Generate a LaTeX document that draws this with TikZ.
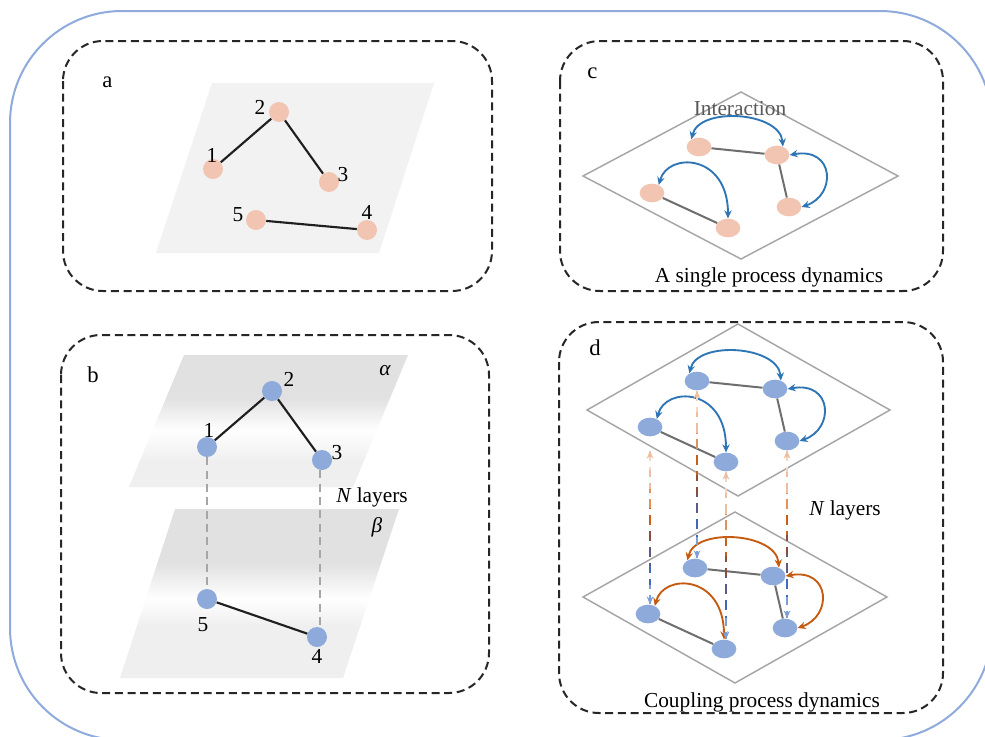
\documentclass[tikz,border=0pt]{standalone}
\usepackage{fontspec}
\setmainfont{Liberation Serif}
\usetikzlibrary{arrows.meta,shapes.geometric,calc}
\definecolor{outerblue}{HTML}{8FAADC}
\definecolor{nodeblue}{HTML}{8EAADB}
\definecolor{peach}{HTML}{F2C5B2}
\definecolor{arcblue}{HTML}{2E75B6}
\definecolor{arcorange}{HTML}{C55A11}
\definecolor{planegray}{HTML}{F2F2F2}
\definecolor{planeDark}{HTML}{E1E1E1}
\definecolor{planeLight}{HTML}{EFEFEF}
\definecolor{diamgray}{HTML}{A6A6A6}
\definecolor{edgegray}{HTML}{6E6E6E}
\definecolor{txtgray}{HTML}{595959}
\definecolor{gA}{HTML}{F4D6C4}
\definecolor{gB}{HTML}{EDBFA0}
\definecolor{gC}{HTML}{DE9260}
\definecolor{gD}{HTML}{C9601A}
\definecolor{gE}{HTML}{8A4E3E}
\definecolor{gF}{HTML}{5A5A84}
\definecolor{gG}{HTML}{4169B4}
\definecolor{gH}{HTML}{7E9ED8}
\tikzset{
 panel/.style={draw=black!85, line width=1.5pt, dash pattern=on 6pt off 3.5pt, rounded corners=30pt},
 outerline/.style={draw=outerblue, line width=1.5pt, rounded corners=84pt},
 dotA/.style={circle, fill=peach, minimum size=15pt, inner sep=0pt},
 dotB/.style={circle, fill=nodeblue, minimum size=15pt, inner sep=0pt},
 ell/.style={ellipse, minimum width=18.5pt, minimum height=14pt, inner sep=0pt},
 blackedge/.style={draw=black!88, line width=1.6pt},
 grayedge/.style={draw=edgegray, line width=1.5pt},
 vdash/.style={draw=diamgray, line width=1.5pt, dash pattern=on 6pt off 4pt},
 cdash/.style={line width=1.5pt, dash pattern=on 8pt off 4pt},
 diam/.style={draw=diamgray, line width=1.1pt},
 arcline/.style={line width=1.4pt, {Stealth[length=6pt,width=5.5pt]}-{Stealth[length=6pt,width=5.5pt]}},
 txt/.style={inner sep=0pt, font=\fontsize{16}{19}\selectfont},
 lbl/.style={inner sep=0pt, anchor=base west, font=\fontsize{17}{20}\selectfont},
}
\newcommand\netlayer[4]{%
 \begin{scope}[shift={#4}]
  \node[ell, fill=#2] (#1-1) at (699,147) {};
  \node[ell, fill=#2] (#1-2) at (777,155) {};
  \node[ell, fill=#2] (#1-3) at (652,193) {};
  \node[ell, fill=#2] (#1-4) at (728,228) {};
  \node[ell, fill=#2] (#1-5) at (789,207) {};
 \end{scope}
 \draw[grayedge] (#1-1) -- (#1-2) (#1-2) -- (#1-5) (#1-3) -- (#1-4);
 \draw[arcline, draw=#3] (#1-1.135) .. controls +(8,-33) and +(-3,-35) .. (#1-2.55);
 \draw[arcline, draw=#3] (#1-3.50) .. controls +(9,-33) and +(0,-65) .. (#1-4.90);
 \draw[arcline, draw=#3] (#1-2.east) .. controls +(45,-8) and +(35,-12) .. (#1-5.east);
}
\begin{document}
\begin{tikzpicture}[x=0.75pt,y=-0.75pt, font=\fontsize{16}{19}\selectfont]
\useasboundingbox (0,0) rectangle (985,736);
\clip (0,0) rectangle (985,736);
\fill[white] (0,0) rectangle (985,736);

% outer frame
\draw[outerline] (10,11) rectangle (992,740);

% panels
\draw[panel] (63,41) rectangle (492,291);
\draw[panel] (61,335) rectangle (489,693);
\draw[panel] (560,41) rectangle (943,291);
\draw[panel] (559,322) rectangle (943,713);

\node[lbl] (la) at (102,87) {a};
\node[lbl] (lb) at (87,382) {b};
\node[lbl] (lc) at (587,78) {c};
\node[lbl] (ld) at (589,355) {d};

% ---------- panel a ----------
\fill[planegray] (212,83) -- (434,83) -- (379,253) -- (156,253) -- cycle;
\node[dotA] (a1) at (213,169) {};
\node[dotA] (a2) at (279,112) {};
\node[dotA] (a3) at (329,182) {};
\node[dotA] (a5) at (256,220) {};
\node[dotA] (a4) at (367,230) {};
\draw[blackedge] (a1) -- (a2) (a2) -- (a3) (a5) -- (a4);
\node[txt] (ta1) at (212,155) {1};
\node[txt] (ta2) at (260,107) {2};
\node[txt] (ta3) at (343,175) {3};
\node[txt] (ta5) at (238,215) {5};
\node[txt] (ta4) at (367,212) {4};

% ---------- panel b ----------
\begin{scope}
 \clip (184,355) -- (408,355) -- (353,487) -- (129,487) -- cycle;
 \fill[planeDark] (120,354) rectangle (420,399);
 \shade[top color=planeDark, bottom color=white] (120,398) rectangle (420,431);
 \shade[top color=white, bottom color=planeLight] (120,430) rectangle (420,461);
 \fill[planeLight] (120,460) rectangle (420,488);
\end{scope}
\begin{scope}
 \clip (175,509) -- (399,509) -- (343,678) -- (120,678) -- cycle;
 \fill[planeDark] (110,508) rectangle (410,564);
 \shade[top color=planeDark, bottom color=white] (110,563) rectangle (410,599);
 \shade[top color=white, bottom color=planeLight] (110,598) rectangle (410,626);
 \fill[planeLight] (110,625) rectangle (410,679);
\end{scope}
\node[dotB] (b1) at (207,447) {};
\node[dotB] (b2) at (272,391) {};
\node[dotB] (b3) at (322,460) {};
\node[dotB] (b5) at (207,599) {};
\node[dotB] (b4) at (317,637) {};
\draw[vdash] (b1.south) -- (b5.north);
\draw[vdash] ([xshift=-1.5pt]b3.south) -- ([xshift=-1.5pt]b3.south |- b4.north);
\draw[blackedge] (b1) -- (b2) (b2) -- (b3) (b5) -- (b4);
\node[txt] (tb1) at (209,430) {1};
\node[txt] (tb2) at (289,379) {2};
\node[txt] (tb3) at (337,453) {3};
\node[txt] (tb5) at (203,625) {5};
\node[txt] (tb4) at (317,656) {4};
\node[txt] (alpha) at (385,371) {\itshape α};
\node[txt] (beta) at (377,527) {\itshape β};
\node[txt] (nlb) at (372,497) {\textit{N} layers};

% ---------- panel c ----------
\draw[diam] (741,92) -- (898,176) -- (741,259) -- (583,176) -- cycle;
\netlayer{n}{peach}{arcblue}{(0,0)}
\node[txt, text=txtgray] (inter) at (740,109) {Interaction};
\node[txt, anchor=base] (cap1) at (769,282) {A single process dynamics};

% ---------- panel d ----------
\draw[diam] (738,324) -- (890,410) -- (738,496) -- (587,410) -- cycle;
\draw[diam] (735,512) -- (887,597) -- (735,683) -- (583,597) -- cycle;
\netlayer{l}{nodeblue}{arcorange}{(-4,421)}
\netlayer{u}{nodeblue}{arcblue}{(-2,234)}
\node[txt] (nld) at (845,510) {\textit{N} layers};
\node[txt, anchor=base] (cap2) at (762,707) {Coupling process dynamics};

\foreach \a/\b/\s in {u-3/l-3/14, u-1/l-1/0, u-4/l-4/0, u-5/l-5/0} {
 \path ($(\a.south)+(0,\s)$) coordinate (vt);
 \path (vt |- \b.north) coordinate (vb);
 \path let \p1=($(vb)-(vt)$) in \pgfextra{\pgfmathsetmacro\Lseg{veclen(\x1,\y1)/8}\global\let\Lseg\Lseg};
 \foreach \i/\c in {0/gA,1/gB,2/gC,3/gD,4/gE,5/gF,6/gG,7/gH} {
  \pgfmathsetmacro\ta{\i/8}
  \pgfmathsetmacro\tb{(\i+1)/8}
  \pgfmathsetmacro\ph{\i*\Lseg}
  \draw[cdash, dash phase=\ph pt, draw=\c] ($(vt)!\ta!(vb)$) -- ($(vt)!\tb!(vb)$);
 }
 \draw[line width=1.5pt, draw=gB, -{Stealth[length=6pt,width=5pt]}] ($(vt)!0.04!(vb)$) -- (vt);
 \draw[line width=1.5pt, draw=gH, -{Stealth[length=6pt,width=5pt]}] ($(vt)!0.96!(vb)$) -- (vb);
}
\end{tikzpicture}
\end{document}
